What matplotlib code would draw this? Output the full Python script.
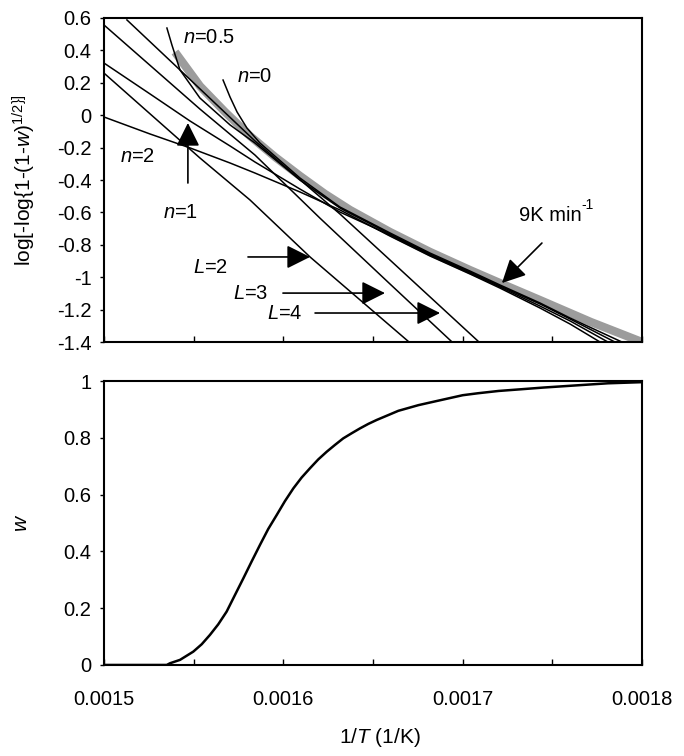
import matplotlib
matplotlib.use("Agg")
import matplotlib.pyplot as plt

plt.rcParams["font.family"] = ["Liberation Sans", "DejaVu Sans"]
plt.rcParams["mathtext.fontset"] = "custom"
plt.rcParams["mathtext.rm"] = "Liberation Sans"
plt.rcParams["mathtext.it"] = "Liberation Sans:italic"
plt.rcParams["font.size"] = 14.5

# measured conversion curve, 9 K/min
exp_x = [0.0015396, 0.0015535, 0.0015675, 0.0015814, 0.0015954, 0.0016093, 0.0016232,
         0.0016372, 0.0016595, 0.0016818, 0.0017041, 0.0017208, 0.0017431, 0.0017716, 0.0018]
exp_y = [0.390, 0.180, 0.020, -0.128, -0.258, -0.375, -0.486,
         -0.585, -0.721, -0.844, -0.956, -1.036, -1.141, -1.277, -1.400]

# model curves: reaction order n
n2_x = [0.0015, 0.0015257, 0.0015480, 0.0015703, 0.0015842, 0.0016093, 0.0016316,
        0.0016595, 0.0016818, 0.0017041, 0.0017208, 0.0017431, 0.0017599, 0.0017766]
n2_y = [-0.011, -0.116, -0.202, -0.295, -0.357, -0.474, -0.585,
        -0.746, -0.869, -0.980, -1.067, -1.190, -1.289, -1.400]
n1_x = [0.0015, 0.0015257, 0.0015480, 0.0015703, 0.0015842, 0.0016093, 0.0016316,
        0.0016595, 0.0016818, 0.0017041, 0.0017208, 0.0017431, 0.0017599, 0.0017810]
n1_y = [0.322, 0.131, -0.036, -0.190, -0.289, -0.456, -0.598,
        -0.739, -0.863, -0.974, -1.060, -1.178, -1.270, -1.400]
n05_x = [0.0015351, 0.0015379, 0.0015424, 0.0015535, 0.0015703, 0.0015842, 0.0016093, 0.0016316,
         0.0016595, 0.0016818, 0.0017041, 0.0017208, 0.0017431, 0.0017599, 0.0017849]
n05_y = [0.538, 0.433, 0.279, 0.106, -0.060, -0.172, -0.400, -0.573,
         -0.733, -0.857, -0.968, -1.054, -1.165, -1.258, -1.400]
n0_x = [0.0015664, 0.0015703, 0.0015742, 0.0015797, 0.0015870, 0.0016093, 0.0016316,
        0.0016595, 0.0016818, 0.0017041, 0.0017208, 0.0017431, 0.0017599, 0.0017888]
n0_y = [0.217, 0.112, 0.020, -0.079, -0.172, -0.388, -0.567,
        -0.727, -0.851, -0.962, -1.048, -1.159, -1.252, -1.400]

# model curves: L
L2_x = [0.0015, 0.0015535, 0.0015814, 0.0016149, 0.0016701]
L2_y = [0.260, -0.264, -0.523, -0.875, -1.400]
L3_x = [0.0015, 0.0015535, 0.0015842, 0.0016204, 0.0016595, 0.0016941]
L3_y = [0.557, 0.038, -0.246, -0.635, -1.042, -1.400]
L4_x = [0.0015128, 0.0015424, 0.0015842, 0.0016316, 0.0016595, 0.0017091]
L4_y = [0.588, 0.279, -0.159, -0.610, -0.894, -1.400]

# conversion w vs 1/T
w_x = [0.0015, 0.001535, 0.0015368, 0.0015424, 0.0015498, 0.0015545, 0.0015591, 0.0015637,
       0.0015684, 0.0015730, 0.0015777, 0.0015823, 0.0015870, 0.0015916, 0.0015963,
       0.0016009, 0.0016056, 0.0016102, 0.0016149, 0.0016195, 0.0016242, 0.0016288,
       0.0016334, 0.0016381, 0.0016427, 0.0016474, 0.0016521, 0.0016585, 0.0016641,
       0.0016753, 0.0016844, 0.0017, 0.0017086, 0.0017200, 0.0017326, 0.0017450,
       0.0017570, 0.0017690, 0.0017810, 0.0018]
w_y = [0, 0, 0.006, 0.018, 0.047, 0.073, 0.106, 0.143,
       0.188, 0.246, 0.305, 0.364, 0.423, 0.479, 0.528,
       0.577, 0.622, 0.660, 0.693, 0.724, 0.751, 0.775,
       0.798, 0.816, 0.833, 0.849, 0.863, 0.880, 0.895,
       0.915, 0.928, 0.950, 0.957, 0.965, 0.971, 0.977,
       0.982, 0.987, 0.992, 0.996]

x_ticks = [0.0015, 0.00155, 0.0016, 0.00165, 0.0017, 0.00175, 0.0018]
x_labels = ["0.0015", "", "0.0016", "", "0.0017", "", "0.0018"]
top_ticks = [0.6, 0.4, 0.2, 0, -0.2, -0.4, -0.6, -0.8, -1, -1.2, -1.4]
top_labels = ["0.6", "0.4", "0.2", "0", "-0.2", "-0.4", "-0.6", "-0.8", "-1", "-1.2", "-1.4"]
bot_ticks = [0, 0.2, 0.4, 0.6, 0.8, 1]
bot_labels = ["0", "0.2", "0.4", "0.6", "0.8", "1"]

fig = plt.figure(figsize=(6.84, 7.56), dpi=100)
ax1 = fig.add_axes([0.152, 0.5476, 0.7866, 0.4286])
ax2 = fig.add_axes([0.152, 0.1204, 0.7866, 0.3756])

ax1.plot(exp_x, exp_y, color="#9c9c9c", lw=6, solid_capstyle="butt")
for xs, ys in [(n2_x, n2_y), (n1_x, n1_y), (n05_x, n05_y), (n0_x, n0_y),
               (L2_x, L2_y), (L3_x, L3_y), (L4_x, L4_y)]:
    ax1.plot(xs, ys, color="black", lw=1.1)

arrow = dict(arrowstyle="-|>,head_length=0.72,head_width=0.36", color="black",
             lw=1.2, mutation_scale=20, shrinkA=0, shrinkB=0)
ax1.annotate("", xy=(0.0015468, -0.048), xytext=(0.0015468, -0.4185), arrowprops=arrow)
ax1.annotate("", xy=(0.0016149, -0.875), xytext=(0.0015803, -0.875), arrowprops=arrow)
ax1.annotate("", xy=(0.0016567, -1.098), xytext=(0.0015998, -1.098), arrowprops=arrow)
ax1.annotate("", xy=(0.0016874, -1.221), xytext=(0.0016177, -1.221), arrowprops=arrow)
ax1.annotate("", xy=(0.0017219, -1.036), xytext=(0.0017442, -0.789), arrowprops=arrow)

lab = dict(va="center", ha="left")
ax1.text(0.0015441, 0.477, "$n$=0.5", **lab)
ax1.text(0.0015742, 0.236, "$n$=0", **lab)
ax1.text(0.0015089, -0.258, "$n$=2", **lab)
ax1.text(0.0015329, -0.598, "$n$=1", **lab)
ax1.text(0.0015496, -0.937, "$L$=2", **lab)
ax1.text(0.0015719, -1.098, "$L$=3", **lab)
ax1.text(0.0015909, -1.221, "$L$=4", **lab)
rate = ax1.text(0.0017314, -0.622, "9K min", **lab)
# superscript with a plain hyphen, as in the original
ax1.annotate("-1", xy=(1.0, 0.72), xycoords=rate, ha="left", va="bottom", fontsize=10)

ax1.set_xlim(0.0015, 0.0018)
ax1.set_ylim(-1.4, 0.6)
ax1.set_yticks(top_ticks)
ax1.set_yticklabels(top_labels)
ax1.set_xticks(x_ticks)
ax1.set_xticklabels([])
ax1.tick_params(axis="x", direction="in", length=4, width=1)
ax1.tick_params(axis="y", direction="out", length=3, width=1, pad=6)

ax2.plot(w_x, w_y, color="black", lw=1.8)
ax2.set_xlim(0.0015, 0.0018)
ax2.set_ylim(0, 1)
ax2.set_yticks(bot_ticks)
ax2.set_yticklabels(bot_labels)
ax2.set_xticks(x_ticks)
ax2.set_xticklabels(x_labels)
ax2.tick_params(axis="x", direction="in", length=4, width=1, pad=18)
ax2.tick_params(axis="y", direction="out", length=3, width=1, pad=6)

for ax in (ax1, ax2):
    for s in ax.spines.values():
        s.set_linewidth(1.5)

fig.text(0.035, 0.762, "log[-log{1-(1-$w$)$^{1/2\\}]}$", rotation=90,
         ha="center", va="center", fontsize=15)
fig.text(0.032, 0.308, "$w$", rotation=90, ha="center", va="center", fontsize=15)
fig.text(0.556, 0.025, "1/$T$ (1/K)", ha="center", va="center", fontsize=15)

fig.savefig("out.png", dpi=100)
